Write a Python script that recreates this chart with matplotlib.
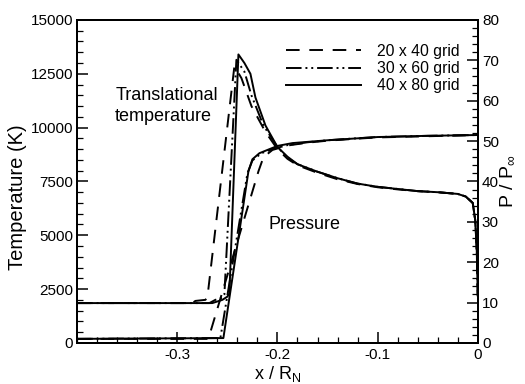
import matplotlib
matplotlib.use("Agg")
import matplotlib.pyplot as plt
from matplotlib.ticker import MultipleLocator

plt.rcParams['font.family'] = ['Liberation Sans', 'DejaVu Sans']
plt.rcParams['mathtext.fontset'] = 'custom'
plt.rcParams['mathtext.rm'] = 'Liberation Sans'

# ---- data ----
grid_names = ["20 x 40 grid", "30 x 60 grid", "40 x 80 grid"]

# translational temperature (K)
t_x_20 = [-0.4, -0.285, -0.282, -0.272, -0.270, -0.243, -0.236, -0.226, -0.212, -0.200, -0.190,
          -0.180, -0.160, -0.140, -0.120, -0.100, -0.080, -0.060, -0.040, -0.020, -0.012,
          -0.005, -0.0025, -0.001, 0.0]
t_y_20 = [1850, 1850, 1950, 2000, 2100, 12850, 12300, 11000, 9800, 9000, 8550,
          8250, 7900, 7600, 7380, 7230, 7130, 7050, 7000, 6920, 6800,
          6500, 5700, 4300, 2200]

t_x_30 = [-0.4, -0.268, -0.262, -0.255, -0.253, -0.241, -0.233, -0.226, -0.214, -0.200, -0.190,
          -0.180, -0.160, -0.140, -0.120, -0.100, -0.080, -0.060, -0.040, -0.020, -0.012,
          -0.005, -0.0025, -0.001, 0.0]
t_y_30 = [1850, 1850, 2000, 2100, 2250, 13150, 12600, 11500, 10100, 9100, 8600,
          8300, 7950, 7650, 7400, 7250, 7150, 7050, 7000, 6920, 6800,
          6500, 5700, 4300, 2200]

t_x_40 = [-0.4, -0.265, -0.255, -0.250, -0.248, -0.239, -0.233, -0.227, -0.222, -0.212, -0.200,
          -0.190, -0.180, -0.160, -0.140, -0.120, -0.100, -0.080, -0.060, -0.040, -0.020,
          -0.012, -0.005, -0.0025, -0.001, 0.0]
t_y_40 = [1850, 1850, 2000, 2150, 2300, 13400, 13000, 12500, 11400, 10100, 9100,
          8650, 8300, 7950, 7650, 7400, 7250, 7150, 7050, 7000, 6920,
          6800, 6500, 5700, 4300, 2200]

# pressure ratio P / P_inf
p_x_20 = [-0.4, -0.269, -0.219, -0.214, -0.205, -0.190, -0.170, -0.150, -0.120, -0.100, -0.050, 0.0]
p_y_20 = [1.0, 1.0, 42.5, 46.0, 47.8, 48.9, 49.6, 50.1, 50.6, 50.9, 51.2, 51.5]

p_x_30 = [-0.4, -0.257, -0.230, -0.225, -0.216, -0.205, -0.190, -0.170, -0.150, -0.120, -0.100, -0.050, 0.0]
p_y_30 = [1.0, 1.2, 42.0, 45.2, 47.0, 48.0, 49.0, 49.7, 50.2, 50.7, 51.0, 51.3, 51.5]

p_x_40 = [-0.4, -0.254, -0.229, -0.225, -0.218, -0.210, -0.200, -0.185, -0.150, -0.100, -0.050, 0.0]
p_y_40 = [1.0, 1.2, 42.5, 45.5, 47.0, 47.8, 48.8, 49.5, 50.2, 51.0, 51.3, 51.5]

styles = [(0, (7, 5)), (0, (8, 2, 1, 2, 1, 2)), '-']

fig = plt.figure(figsize=(5.25, 3.84), dpi=100)
ax = fig.add_axes([0.147, 0.107, 0.763, 0.841])
ax2 = ax.twinx()

t_sets = [(t_x_20, t_y_20), (t_x_30, t_y_30), (t_x_40, t_y_40)]
p_sets = [(p_x_20, p_y_20), (p_x_30, p_y_30), (p_x_40, p_y_40)]

handles = []
for (tx, ty), (px, py), ls, name in zip(t_sets, p_sets, styles, grid_names):
    h, = ax.plot(tx, ty, color='black', lw=1.4, ls=ls, label=name)
    ax2.plot(px, py, color='black', lw=1.4, ls=ls)
    handles.append(h)

ax.set_xlim(-0.4, 0)
ax.set_ylim(0, 15000)
ax2.set_ylim(0, 80)

ax.xaxis.set_major_locator(MultipleLocator(0.1))
ax.xaxis.set_minor_locator(MultipleLocator(0.02))
ax.yaxis.set_major_locator(MultipleLocator(2500))
ax.yaxis.set_minor_locator(MultipleLocator(500))
ax2.yaxis.set_major_locator(MultipleLocator(10))
ax2.yaxis.set_minor_locator(MultipleLocator(2))
ax.set_xticks([-0.3, -0.2, -0.1, 0])
ax.set_xticklabels(['-0.3', '-0.2', '-0.1', '0'])

for a in (ax, ax2):
    a.tick_params(which='major', direction='in', length=8, width=1.1, labelsize=11)
    a.tick_params(which='minor', direction='in', length=4, width=0.9)
    for s in a.spines.values():
        s.set_linewidth(1.4)
ax.tick_params(axis='both', which='both', top=False, right=False)
ax.tick_params(axis='x', pad=4)
ax.tick_params(axis='y', pad=3)
ax2.tick_params(axis='y', pad=3)

ax.set_xlabel(r'x / R$_\mathregular{N}$', fontsize=13, labelpad=1)
ax.set_ylabel('Temperature (K)', fontsize=14.5)
ax.yaxis.set_label_coords(-0.125, 0.45)
ax2.set_ylabel(r'P / P$_\infty$', fontsize=14, rotation=90, labelpad=0)

ax.text(-0.362, 11000, 'Translational\ntemperature', fontsize=13, va='center', ha='left',
        linespacing=1.3)
ax.text(-0.209, 5480, 'Pressure', fontsize=13, va='center', ha='left')

ax2.legend(handles=handles, loc='upper right', frameon=False, fontsize=11.3,
           handlelength=4.8, handletextpad=1.0, labelspacing=0.15,
           bbox_to_anchor=(0.99, 0.97))

fig.savefig('out.png', dpi=100)
